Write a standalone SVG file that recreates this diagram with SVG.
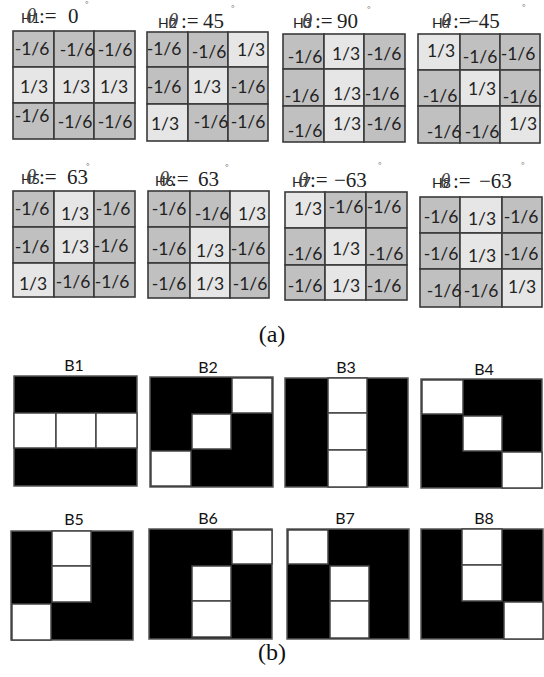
<svg xmlns="http://www.w3.org/2000/svg" width="544" height="677" viewBox="0 0 544 677">
<style>
.d{fill:#c0c0c0;stroke:#3a3a3a;stroke-width:1.6}
.l{fill:#e6e6e6;stroke:#3a3a3a;stroke-width:1.6}
.n{font-family:Lato,"Liberation Sans",sans-serif;font-size:17.5px;fill:#222;text-anchor:middle}
.h{font-family:Lato,"Liberation Sans",sans-serif;font-size:14px;fill:#222}
.th{font-family:"Liberation Serif",serif;font-style:italic;font-size:21px;fill:#444}
.m{font-family:"Liberation Serif",serif;font-size:21px;fill:#222}
.deg{font-family:"Liberation Serif",serif;font-size:9px;fill:#555}
.cap{font-family:"Liberation Serif",serif;font-size:24px;fill:#111;text-anchor:middle}
.bl{font-family:Lato,"Liberation Sans",sans-serif;font-size:16px;fill:#111;text-anchor:middle}
.bk{fill:#000;stroke:#555;stroke-width:1.5}
.wh{fill:#fff;stroke:#444;stroke-width:1.5}
</style>
<rect width="544" height="677" fill="#fff"/>

<g id="H1">
<text class="h" x="21" y="23">H1</text><text class="th" x="26" y="23">θ</text><text class="m" x="39" y="23">:=</text><text class="m" x="68" y="23">0</text><text class="deg" x="85" y="7">°</text>
<rect class="d" x="13" y="31" width="41" height="36"/><rect class="d" x="54" y="31" width="40" height="36"/><rect class="d" x="94" y="31" width="41" height="36"/>
<rect class="l" x="13" y="67" width="41" height="36"/><rect class="l" x="54" y="67" width="40" height="36"/><rect class="l" x="94" y="67" width="41" height="36"/>
<rect class="d" x="13" y="103" width="41" height="36"/><rect class="d" x="54" y="103" width="40" height="36"/><rect class="d" x="94" y="103" width="41" height="36"/>
<text class="n" x="32" y="55">-1/6</text><text class="n" x="77" y="56">-1/6</text><text class="n" x="115" y="56">-1/6</text>
<text class="n" x="34" y="93">1/3</text><text class="n" x="76" y="93">1/3</text><text class="n" x="114" y="93">1/3</text>
<text class="n" x="32" y="122">-1/6</text><text class="n" x="75" y="128">-1/6</text><text class="n" x="115" y="128">-1/6</text>
</g>

<g id="H2">
<text class="h" x="158" y="28">H2</text><text class="th" x="168" y="28">θ</text><text class="m" x="181" y="28">:=</text><text class="m" x="203" y="28">45</text><text class="deg" x="231" y="11">°</text>
<rect class="d" x="147" y="32" width="41" height="35"/><rect class="d" x="188" y="32" width="40" height="35"/><rect class="l" x="228" y="32" width="40" height="35"/>
<rect class="d" x="147" y="67" width="41" height="37"/><rect class="l" x="188" y="67" width="40" height="37"/><rect class="d" x="228" y="67" width="40" height="37"/>
<rect class="l" x="147" y="104" width="41" height="37"/><rect class="d" x="188" y="104" width="40" height="37"/><rect class="d" x="228" y="104" width="40" height="37"/>
<text class="n" x="164" y="55">-1/6</text><text class="n" x="209" y="58">-1/6</text><text class="n" x="251" y="56">1/3</text>
<text class="n" x="164" y="93">-1/6</text><text class="n" x="207" y="93">1/3</text><text class="n" x="248" y="93">-1/6</text>
<text class="n" x="165" y="130">1/3</text><text class="n" x="211" y="128">-1/6</text><text class="n" x="248" y="128">-1/6</text>
</g>

<g id="H3">
<text class="h" x="293" y="28">H3</text><text class="th" x="302" y="28">θ</text><text class="m" x="315" y="28">:=</text><text class="m" x="337" y="28">90</text><text class="deg" x="367" y="12">°</text>
<rect class="d" x="283" y="34" width="41" height="35"/><rect class="l" x="324" y="34" width="40" height="35"/><rect class="d" x="364" y="34" width="41" height="35"/>
<rect class="d" x="283" y="69" width="41" height="37"/><rect class="l" x="324" y="69" width="40" height="37"/><rect class="d" x="364" y="69" width="41" height="37"/>
<rect class="d" x="283" y="106" width="41" height="36"/><rect class="l" x="324" y="106" width="40" height="36"/><rect class="d" x="364" y="106" width="41" height="36"/>
<text class="n" x="305" y="63">-1/6</text><text class="n" x="346" y="60">1/3</text><text class="n" x="384" y="60">-1/6</text>
<text class="n" x="302" y="102">-1/6</text><text class="n" x="347" y="100">1/3</text><text class="n" x="382" y="100">-1/6</text>
<text class="n" x="305" y="137">-1/6</text><text class="n" x="347" y="130">1/3</text><text class="n" x="384" y="130">-1/6</text>
</g>

<g id="H4">
<text class="h" x="432" y="28">H4</text><text class="th" x="441" y="28">θ</text><text class="m" x="453" y="28">:=</text><text class="m" x="467" y="28">−45</text><text class="deg" x="522" y="10">°</text>
<rect class="l" x="418" y="34" width="42" height="36"/><rect class="d" x="460" y="34" width="40" height="36"/><rect class="d" x="500" y="34" width="40" height="36"/>
<rect class="d" x="418" y="70" width="42" height="36"/><rect class="l" x="460" y="70" width="40" height="36"/><rect class="d" x="500" y="70" width="40" height="36"/>
<rect class="d" x="418" y="106" width="42" height="37"/><rect class="d" x="460" y="106" width="40" height="37"/><rect class="l" x="500" y="106" width="40" height="37"/>
<text class="n" x="441" y="57">1/3</text><text class="n" x="480" y="63">-1/6</text><text class="n" x="518" y="60">-1/6</text>
<text class="n" x="440" y="102">-1/6</text><text class="n" x="482" y="95">1/3</text><text class="n" x="520" y="103">-1/6</text>
<text class="n" x="444" y="138">-1/6</text><text class="n" x="482" y="138">-1/6</text><text class="n" x="523" y="130">1/3</text>
</g>

<g id="H5">
<text class="h" x="21" y="184">H5</text><text class="th" x="26" y="184">θ</text><text class="m" x="39" y="184">:=</text><text class="m" x="67" y="184">63</text><text class="deg" x="86" y="169">°</text>
<rect class="d" x="13" y="191" width="41" height="36"/><rect class="l" x="54" y="191" width="40" height="36"/><rect class="d" x="94" y="191" width="41" height="36"/>
<rect class="d" x="13" y="227" width="41" height="36"/><rect class="l" x="54" y="227" width="40" height="36"/><rect class="d" x="94" y="227" width="41" height="36"/>
<rect class="l" x="13" y="263" width="41" height="34"/><rect class="d" x="54" y="263" width="40" height="34"/><rect class="d" x="94" y="263" width="41" height="34"/>
<text class="n" x="32" y="215">-1/6</text><text class="n" x="75" y="220">1/3</text><text class="n" x="113" y="215">-1/6</text>
<text class="n" x="32" y="253">-1/6</text><text class="n" x="75" y="253">1/3</text><text class="n" x="111" y="252">-1/6</text>
<text class="n" x="33" y="290">1/3</text><text class="n" x="73" y="288">-1/6</text><text class="n" x="112" y="288">-1/6</text>
</g>

<g id="H6">
<text class="h" x="155" y="186">H6</text><text class="th" x="159" y="186">θ</text><text class="m" x="171" y="186">:=</text><text class="m" x="198" y="186">63</text><text class="deg" x="225" y="170">°</text>
<rect class="d" x="148" y="191" width="42" height="36"/><rect class="d" x="190" y="191" width="40" height="36"/><rect class="l" x="230" y="191" width="39" height="36"/>
<rect class="d" x="148" y="227" width="42" height="36"/><rect class="l" x="190" y="227" width="40" height="36"/><rect class="d" x="230" y="227" width="39" height="36"/>
<rect class="d" x="148" y="263" width="42" height="35"/><rect class="l" x="190" y="263" width="40" height="35"/><rect class="d" x="230" y="263" width="39" height="35"/>
<text class="n" x="169" y="215">-1/6</text><text class="n" x="212" y="220">-1/6</text><text class="n" x="252" y="220">1/3</text>
<text class="n" x="169" y="255">-1/6</text><text class="n" x="210" y="257">1/3</text><text class="n" x="248" y="255">-1/6</text>
<text class="n" x="169" y="290">-1/6</text><text class="n" x="210" y="290">1/3</text><text class="n" x="250" y="290">-1/6</text>
</g>

<g id="H7">
<text class="h" x="292" y="187">H7</text><text class="th" x="298" y="187">θ</text><text class="m" x="310" y="187">:=</text><text class="m" x="334" y="187">−63</text><text class="deg" x="378" y="168">°</text>
<rect class="l" x="285" y="192" width="40" height="36"/><rect class="d" x="325" y="192" width="41" height="36"/><rect class="d" x="366" y="192" width="41" height="36"/>
<rect class="d" x="285" y="228" width="40" height="37"/><rect class="l" x="325" y="228" width="41" height="37"/><rect class="d" x="366" y="228" width="41" height="37"/>
<rect class="d" x="285" y="265" width="40" height="35"/><rect class="l" x="325" y="265" width="41" height="35"/><rect class="d" x="366" y="265" width="41" height="35"/>
<text class="n" x="308" y="215">1/3</text><text class="n" x="346" y="213">-1/6</text><text class="n" x="384" y="213">-1/6</text>
<text class="n" x="305" y="260">-1/6</text><text class="n" x="346" y="255">1/3</text><text class="n" x="386" y="260">-1/6</text>
<text class="n" x="305" y="292">-1/6</text><text class="n" x="346" y="292">1/3</text><text class="n" x="384" y="292">-1/6</text>
</g>

<g id="H8">
<text class="h" x="432" y="188">H8</text><text class="th" x="440" y="188">θ</text><text class="m" x="453" y="188">:=</text><text class="m" x="479" y="188">−63</text><text class="deg" x="521" y="168">°</text>
<rect class="d" x="420" y="197" width="40" height="36"/><rect class="l" x="460" y="197" width="42" height="36"/><rect class="d" x="502" y="197" width="40" height="36"/>
<rect class="d" x="420" y="233" width="40" height="36"/><rect class="l" x="460" y="233" width="42" height="36"/><rect class="d" x="502" y="233" width="40" height="36"/>
<rect class="d" x="420" y="269" width="40" height="38"/><rect class="d" x="460" y="269" width="42" height="38"/><rect class="l" x="502" y="269" width="40" height="38"/>
<text class="n" x="441" y="223">-1/6</text><text class="n" x="482" y="225">1/3</text><text class="n" x="521" y="223">-1/6</text>
<text class="n" x="441" y="260">-1/6</text><text class="n" x="482" y="262">1/3</text><text class="n" x="521" y="260">-1/6</text>
<text class="n" x="444" y="297">-1/6</text><text class="n" x="481" y="297">-1/6</text><text class="n" x="522" y="293">1/3</text>
</g>

<text class="cap" x="272" y="342">(a)</text>

<g id="B1">
<text class="bl" x="74" y="371">B1</text>
<rect class="bk" x="14" y="376" width="123" height="110"/>
<rect class="wh" x="14" y="413" width="42" height="35"/><rect class="wh" x="56" y="413" width="40" height="35"/><rect class="wh" x="96" y="413" width="41" height="35"/>
</g>
<g id="B2">
<text class="bl" x="208" y="373">B2</text>
<rect class="bk" x="150" y="377" width="123" height="110"/>
<rect class="wh" x="232" y="378" width="40" height="35"/><rect class="wh" x="192" y="414" width="39" height="35"/><rect class="wh" x="151" y="451" width="40" height="35"/>
</g>
<g id="B3">
<text class="bl" x="346" y="373">B3</text>
<rect class="bk" x="285" y="378" width="123" height="109"/>
<rect class="wh" x="328" y="378" width="39" height="35"/><rect class="wh" x="328" y="413" width="39" height="37"/><rect class="wh" x="328" y="450" width="39" height="37"/>
</g>
<g id="B4">
<text class="bl" x="484" y="375">B4</text>
<rect class="bk" x="421" y="379" width="121" height="109"/>
<rect class="wh" x="422" y="380" width="41" height="34"/><rect class="wh" x="463" y="416" width="39" height="35"/><rect class="wh" x="502" y="452" width="40" height="36"/>
</g>

<g id="B5">
<text class="bl" x="74" y="525">B5</text>
<rect class="bk" x="11" y="531" width="122" height="109"/>
<rect class="wh" x="52" y="531" width="39" height="35"/><rect class="wh" x="52" y="566" width="39" height="36"/><rect class="wh" x="12" y="604" width="39" height="36"/>
</g>
<g id="B6">
<text class="bl" x="208" y="524">B6</text>
<rect class="bk" x="149" y="529" width="123" height="110"/>
<rect class="wh" x="232" y="530" width="40" height="34"/><rect class="wh" x="192" y="566" width="39" height="35"/><rect class="wh" x="192" y="601" width="39" height="36"/>
</g>
<g id="B7">
<text class="bl" x="345" y="524">B7</text>
<rect class="bk" x="287" y="529" width="122" height="110"/>
<rect class="wh" x="288" y="530" width="40" height="34"/><rect class="wh" x="330" y="566" width="39" height="35"/><rect class="wh" x="330" y="601" width="39" height="37"/>
</g>
<g id="B8">
<text class="bl" x="484" y="524">B8</text>
<rect class="bk" x="421" y="529" width="122" height="110"/>
<rect class="wh" x="462" y="529" width="40" height="36"/><rect class="wh" x="462" y="565" width="40" height="36"/><rect class="wh" x="504" y="602" width="39" height="37"/>
</g>

<text class="cap" x="272" y="660">(b)</text>
</svg>
